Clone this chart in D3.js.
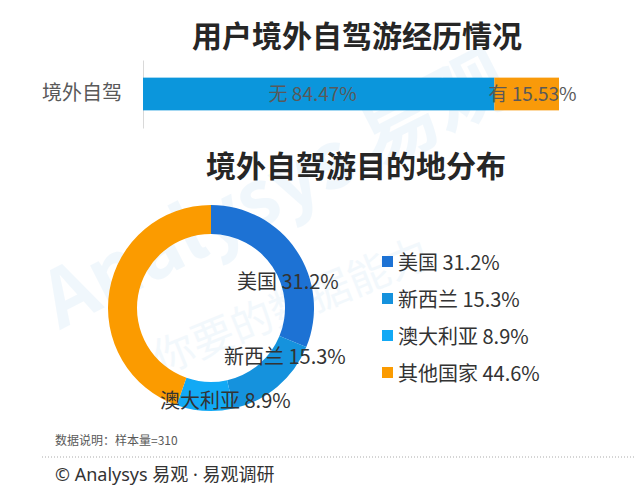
<!DOCTYPE html>
<html>
<head>
  <meta charset="utf-8">
  <title>用户境外自驾游经历情况</title>
  <script src="https://d3js.org/d3.v7.min.js"></script>
  <style>
    body { margin: 0; background: #fff; font-family: "Noto Sans CJK SC", "Noto Sans", sans-serif; }
    svg text { font-family: "Noto Sans CJK SC", "Noto Sans", sans-serif; }
  </style>
</head>
<body>
  <svg width="634" height="502"></svg>

  <script>
    // bar: experience of driving abroad
    const barCategory = "境外自驾";
    const barLabels = ["无", "有"];
    const barValues = [84.47, 15.53];
    const barColors = ["#0b96dc", "#f99a0a"];

    // donut: destinations
    const destNames = ["美国", "新西兰", "澳大利亚", "其他国家"];
    const destValues = [31.2, 15.3, 8.9, 44.6];
    const destColors = ["#1d72d4", "#1592dd", "#12a9f5", "#fb9b00"];

    const svg = d3.select("svg");

    // watermark
    const wm = svg.append("g").attr("opacity", 0.35);
    wm.append("text")
      .attr("transform", "translate(60,330) rotate(-27)")
      .attr("font-size", 78).attr("font-weight", "bold").attr("fill", "#d7eaf8")
      .text("Analysys 易观");
    wm.append("text")
      .attr("transform", "translate(160,375) rotate(-22)")
      .attr("font-size", 42).attr("fill", "#dcecf8")
      .text("你要的数据能力");

    // titles
    svg.append("text").attr("x", 357).attr("y", 47)
      .attr("text-anchor", "middle").attr("font-size", 30).attr("font-weight", "bold")
      .attr("fill", "#262626").text("用户境外自驾游经历情况");
    svg.append("text").attr("x", 356).attr("y", 177)
      .attr("text-anchor", "middle").attr("font-size", 30).attr("font-weight", "bold")
      .attr("fill", "#262626").text("境外自驾游目的地分布");

    // stacked bar
    const x = d3.scaleLinear().domain([0, 100]).range([143, 559]);
    const y = d3.scaleBand().domain([barCategory]).range([60, 128]).padding(0.35);

    const yAxis = svg.append("g").attr("transform", "translate(143,0)")
      .call(d3.axisLeft(y).tickSize(0).tickPadding(21));
    yAxis.select(".domain").attr("stroke", "#d9d9d9");
    yAxis.selectAll("text").attr("font-size", 20).attr("fill", "#595959");

    let acc = 0;
    const stacks = barValues.map((v, i) => {
      const s = { label: barLabels[i], value: v, x0: acc, x1: acc + v, color: barColors[i] };
      acc += v;
      return s;
    });

    svg.selectAll("rect.seg").data(stacks).enter().append("rect")
      .attr("class", "seg")
      .attr("x", d => x(d.x0))
      .attr("width", d => x(d.x1) - x(d.x0))
      .attr("y", y(barCategory))
      .attr("height", y.bandwidth())
      .attr("fill", d => d.color);

    svg.selectAll("text.seglabel").data(stacks).enter().append("text")
      .attr("class", "seglabel")
      .attr("x", (d, i) => i === 0 ? (x(d.x0) + x(d.x1)) / 2 - 6 : x(d.x0) - 6)
      .attr("y", y(barCategory) + y.bandwidth() / 2 + 7)
      .attr("text-anchor", (d, i) => i === 0 ? "middle" : "start")
      .attr("font-size", 19).attr("fill", "#595959")
      .text(d => `${d.label} ${d.value.toFixed(2)}%`);

    // donut
    const cx = 211, cy = 308, outerR = 103, innerR = 74;
    const pie = d3.pie().sort(null).value(d => d);
    const arc = d3.arc().innerRadius(innerR).outerRadius(outerR);
    const arcs = pie(destValues);

    const donut = svg.append("g").attr("transform", `translate(${cx},${cy})`);
    donut.selectAll("path").data(arcs).enter().append("path")
      .attr("d", arc)
      .attr("fill", (d, i) => destColors[i]);

    // inner slice labels (first three slices)
    const labelPos = [[26, -19], [13, 56], [-51, 100]];
    donut.selectAll("text.slicelabel").data(arcs.slice(0, 3)).enter().append("text")
      .attr("class", "slicelabel")
      .attr("x", (d, i) => labelPos[i][0])
      .attr("y", (d, i) => labelPos[i][1])
      .attr("font-size", 20).attr("fill", "#333")
      .text((d, i) => `${destNames[i]} ${d.data.toFixed(1)}%`);

    // legend
    const legend = svg.append("g").attr("transform", "translate(382,262)");
    const row = legend.selectAll("g").data(destNames).enter().append("g")
      .attr("transform", (d, i) => `translate(0,${i * 37})`);
    row.append("rect").attr("x", 0).attr("y", -6).attr("width", 11).attr("height", 11)
      .attr("fill", (d, i) => destColors[i]);
    row.append("text").attr("x", 16).attr("y", 8)
      .attr("font-size", 20).attr("fill", "#333")
      .text((d, i) => `${d} ${destValues[i].toFixed(1)}%`);

    // footer
    svg.append("text").attr("x", 55).attr("y", 445)
      .attr("font-size", 12).attr("fill", "#595959").text("数据说明：样本量=310");
    svg.append("line").attr("x1", 42).attr("x2", 634).attr("y1", 457).attr("y2", 457)
      .attr("stroke", "#aaa").attr("stroke-width", 1).attr("stroke-dasharray", "1,2");
    svg.append("text").attr("x", 55).attr("y", 481)
      .attr("font-size", 18).attr("fill", "#333")
      .style("font-family", "'Noto Sans', 'Noto Sans CJK SC', sans-serif")
      .text("© Analysys 易观 · 易观调研");
  </script>
</body>
</html>
